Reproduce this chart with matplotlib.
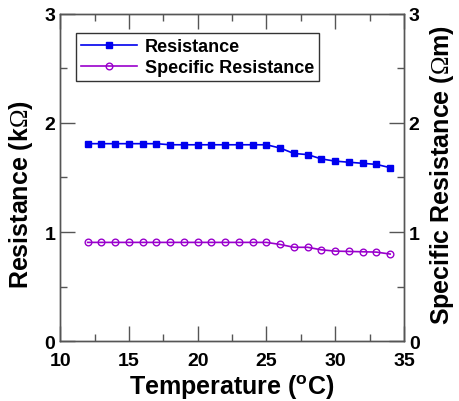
import numpy as np
import matplotlib
matplotlib.use("Agg")
import matplotlib.pyplot as plt
from matplotlib.ticker import MultipleLocator

plt.rcParams['font.family'] = ['Liberation Sans', 'DejaVu Sans']
plt.rcParams['mathtext.fontset'] = 'custom'
plt.rcParams['mathtext.rm'] = 'Liberation Serif'
plt.rcParams['mathtext.sf'] = 'Liberation Sans:bold'

# data
temperature = [12, 13, 14, 15, 16, 17, 18, 19, 20, 21, 22, 23,
               24, 25, 26, 27, 28, 29, 30, 31, 32, 33, 34]
resistance = [1.81, 1.81, 1.81, 1.81, 1.81, 1.81, 1.80, 1.80, 1.80, 1.80, 1.80, 1.80,
              1.80, 1.80, 1.77, 1.72, 1.71, 1.67, 1.65, 1.64, 1.63, 1.62, 1.59]
specificResistance = [0.905, 0.905, 0.905, 0.905, 0.905, 0.905, 0.905, 0.905, 0.905, 0.905, 0.905, 0.905,
                      0.905, 0.905, 0.886, 0.86, 0.86, 0.837, 0.825, 0.822, 0.819, 0.816, 0.798]

blue = '#0000ee'
purple = '#9900cc'
spineColor = '#555555'

fig = plt.figure(figsize=(4.59, 4.02), dpi=100)
ax = fig.add_axes([0.131, 0.149, 0.749, 0.814])
ax2 = ax.twinx()

l1, = ax.plot(temperature, resistance, color=blue, lw=1.2, marker='s',
              markersize=4.5, markerfacecolor=blue, markeredgecolor=blue, label='Resistance')
l2, = ax2.plot(temperature, specificResistance, color=purple, lw=1.2, marker='o',
               markersize=4.8, markerfacecolor='none', markeredgecolor=purple,
               markeredgewidth=1.0, label='Specific Resistance')

for a in (ax, ax2):
    a.set_ylim(0, 3)
    a.yaxis.set_major_locator(MultipleLocator(1))
    a.yaxis.set_minor_locator(MultipleLocator(0.5))
    for s in a.spines.values():
        s.set_color(spineColor)
        s.set_linewidth(1.0)
    a.tick_params(which='both', direction='in', color=spineColor, labelsize=14, pad=3.5)
    a.tick_params(which='major', length=11, width=1)
    a.tick_params(which='minor', length=5, width=1)

ax.set_xlim(10, 35)
ax.xaxis.set_major_locator(MultipleLocator(5))
ax.xaxis.set_minor_locator(MultipleLocator(2.5))
ax.tick_params(axis='x', which='both', top=True, pad=8)

for lab in ax.get_xticklabels() + ax.get_yticklabels() + ax2.get_yticklabels():
    lab.set_fontweight('bold')

ax.set_xlabel('Temperature ($^{\\mathsf{o}}$C)', fontsize=18, fontweight='bold', labelpad=2)
ax.set_ylabel('Resistance (k$\\Omega$)', fontsize=18, fontweight='bold')
ax.yaxis.set_label_coords(-0.073, 0.45)
ax2.set_ylabel('Specific Resistance ($\\Omega$m)', fontsize=18, fontweight='bold')
ax2.yaxis.set_label_coords(1.07, 0.51)

leg = ax.legend([l1, l2], ['Resistance', 'Specific Resistance'], loc='upper left',
                bbox_to_anchor=(0.046, 0.942), borderaxespad=0, fancybox=False,
                framealpha=1, edgecolor='#333333', handlelength=3.1, handletextpad=0.4,
                labelspacing=0.2, borderpad=0.3, prop={'weight': 'bold', 'size': 13})
leg.get_frame().set_linewidth(1.0)

fig.savefig('out.png', dpi=100)
